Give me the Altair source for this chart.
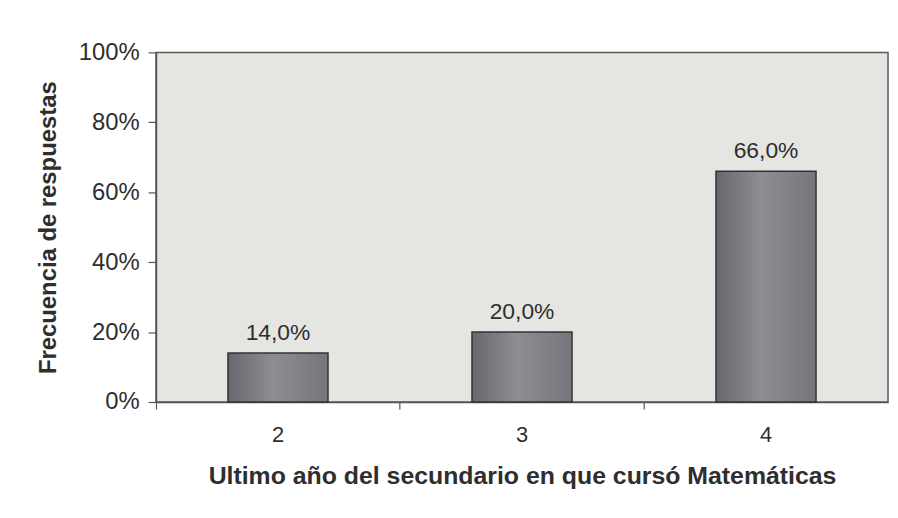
import altair as alt
import pandas as pd

categories = ["2", "3", "4"]
values = [0.14, 0.20, 0.66]

df = pd.DataFrame({"anio": categories, "frecuencia": values})

font = "Liberation Sans"
txt = "#2e2e2e"

base = alt.Chart(df).transform_calculate(
    etiqueta="replace(format(datum.frecuencia, '.1%'), '.', ',')"
)

x_scale = alt.Scale(paddingInner=0, paddingOuter=0)

x_enc = alt.X(
    "anio:N",
    sort=categories,
    scale=x_scale,
    axis=alt.Axis(
        title="Ultimo año del secundario en que cursó Matemáticas",
        labelAngle=0,
        bandPosition=0,
        tickSize=7,
        labelPadding=16,
        titlePadding=18,
        labelFontSize=22,
        titleFontSize=25,
        labelFont=font,
        titleFont=font,
        titleFontWeight="bold",
        labelColor=txt,
        titleColor=txt,
        domainColor="#555555",
        tickColor="#555555",
        domainWidth=1.5,
        tickWidth=1.2,
    ),
)

y_enc = alt.Y(
    "frecuencia:Q",
    scale=alt.Scale(domain=[0, 1]),
    axis=alt.Axis(
        title="Frecuencia de respuestas",
        values=[0, 0.2, 0.4, 0.6, 0.8, 1.0],
        format=".0%",
        tickSize=8,
        labelPadding=9,
        titlePadding=18,
        labelFontSize=24,
        titleFontSize=24,
        labelFont=font,
        titleFont=font,
        titleFontWeight="bold",
        labelColor=txt,
        titleColor=txt,
        grid=False,
        domainColor="#555555",
        tickColor="#555555",
        domainWidth=1.5,
        tickWidth=1.2,
    ),
)

bars = base.mark_bar(
    width=alt.RelativeBandSize(0.41),
    color={
        "gradient": "linear",
        "x1": 0, "x2": 1, "y1": 0, "y2": 0,
        "stops": [
            {"offset": 0, "color": "#66686e"},
            {"offset": 0.45, "color": "#8c8e94"},
            {"offset": 1, "color": "#74767c"},
        ],
    },
    stroke="#333333",
    strokeWidth=1.5,
).encode(x=x_enc, y=y_enc)

labels = base.mark_text(
    baseline="alphabetic",
    dy=-13,
    fontSize=23,
    font=font,
    color=txt,
).encode(x=alt.X("anio:N", sort=categories, scale=x_scale), y="frecuencia:Q", text="etiqueta:N")

chart = (
    alt.layer(bars, labels)
    .properties(
        width=737,
        height=352,
        autosize=alt.AutoSizeParams(type="none"),
        padding={"left": 149, "top": 43, "right": 2, "bottom": 100},
        background="white",
    )
    .configure_view(fill="#e5e5e2", stroke="#5a5a5a", strokeWidth=1.5)
)

chart.save("out.html", embed_options={"renderer": "svg", "actions": False})
